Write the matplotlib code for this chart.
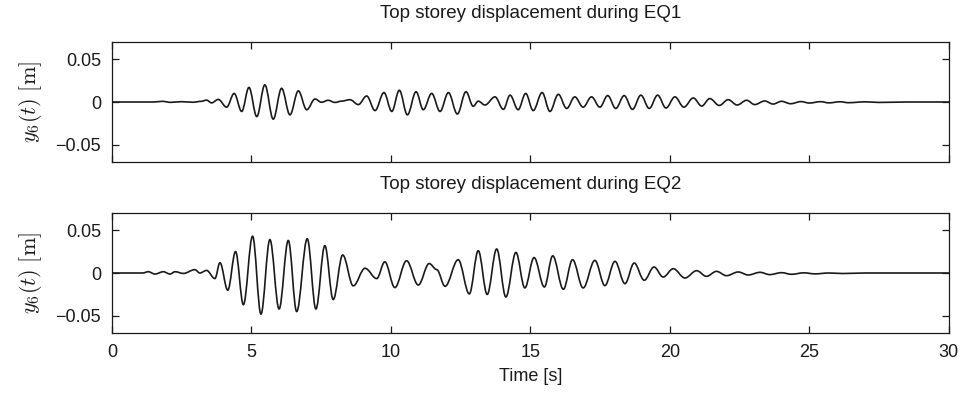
import numpy as np
import matplotlib
matplotlib.use("Agg")
import matplotlib.pyplot as plt
from matplotlib.path import Path
from matplotlib.patches import PathPatch

plt.rcParams['font.family'] = ['Liberation Sans', 'DejaVu Sans']
plt.rcParams['mathtext.fontset'] = 'cm'

# response peaks / troughs of the top storey, [s] and [m]
t_eq1 = [0.0, 1.5, 1.8, 2.1, 2.5, 2.9, 3.2, 3.39, 3.57, 3.81, 4.11, 4.38, 4.65, 4.91,
         5.19, 5.48, 5.78, 6.08, 6.38, 6.68, 6.98, 7.28, 7.51, 7.75, 7.99, 8.23,
         8.53, 8.83, 9.13, 9.43, 9.75, 10.03, 10.30, 10.59, 10.90, 11.16, 11.46,
         11.76, 12.06, 12.38, 12.69, 12.95, 13.13, 13.37, 13.73, 14.03, 14.27,
         14.56, 14.83, 15.10, 15.42, 15.70, 16.00, 16.30, 16.59, 16.89, 17.19,
         17.49, 17.77, 18.06, 18.36, 18.66, 18.96, 19.26, 19.56, 19.86, 20.18,
         20.50, 20.84, 21.14, 21.43, 21.77, 22.09, 22.41, 22.75, 23.04, 23.40,
         23.70, 24.00, 24.33, 24.7, 25.0, 25.4, 25.7, 26.1, 26.4, 27.0, 27.5,
         28.5, 30.0]
y_eq1 = [0.0, 0.0, 0.0008, -0.0004, 0.0004, -0.0003, 0.0008, 0.0022, -0.001, 0.003,
         -0.006, 0.010, -0.011, 0.017, -0.017, 0.020, -0.020, 0.016, -0.015, 0.013,
         -0.009, 0.0035, -0.0003, 0.002, -0.0005, 0.001, 0.0027, -0.003, 0.007,
         -0.010, 0.011, -0.011, 0.0137, -0.015, 0.012, -0.009, 0.010, -0.011, 0.011,
         -0.014, 0.012, -0.005, 0.001, -0.0035, 0.006, -0.0086, 0.008, -0.009, 0.010,
         -0.010, 0.011, -0.011, 0.009, -0.0075, 0.006, -0.006, 0.006, -0.006, 0.0075,
         -0.0075, 0.0075, -0.0086, 0.008, -0.0075, 0.008, -0.007, 0.006, -0.006,
         0.0047, -0.0047, 0.004, -0.004, 0.0027, -0.0035, 0.002, -0.003, 0.0012,
         -0.0024, 0.0008, -0.002, 0.0005, -0.0012, 0.0004, -0.001, 0.0003, -0.0008,
         0.0002, -0.0005, 0.0, 0.0]

t_eq2 = [0.0, 1.1, 1.30, 1.54, 1.84, 2.08, 2.26, 2.56, 2.97, 3.15, 3.39, 3.69, 3.87,
         4.15, 4.43, 4.71, 5.04, 5.34, 5.66, 5.99, 6.32, 6.62, 7.00, 7.31, 7.63,
         7.93, 8.27, 8.65, 9.07, 9.49, 9.78, 10.14, 10.56, 10.98, 11.37, 11.64,
         11.94, 12.41, 12.81, 13.13, 13.45, 13.79, 14.12, 14.48, 14.80, 15.13,
         15.50, 15.80, 16.18, 16.51, 16.89, 17.31, 17.67, 18.03, 18.39, 18.72,
         19.08, 19.43, 19.76, 20.12, 20.54, 20.96, 21.31, 21.67, 22.03, 22.45,
         22.81, 23.23, 23.58, 24.00, 24.36, 24.8, 25.2, 25.7, 26.2, 27.0, 30.0]
y_eq2 = [0.0, 0.0, 0.0015, -0.0012, 0.0015, -0.0012, 0.0015, -0.0005, 0.0039, 0.0,
         0.003, -0.0065, 0.012, -0.020, 0.025, -0.037, 0.043, -0.048, 0.039, -0.042,
         0.038, -0.045, 0.040, -0.042, 0.032, -0.031, 0.021, -0.015, 0.0055, -0.0065,
         0.013, -0.017, 0.0143, -0.014, 0.011, 0.004, -0.0155, 0.0155, -0.0244,
         0.026, -0.025, 0.028, -0.028, 0.024, -0.0174, 0.018, -0.0163, 0.020, -0.019,
         0.0155, -0.0174, 0.0147, -0.0147, 0.0136, -0.0124, 0.0116, -0.0085, 0.007,
         -0.0047, 0.005, -0.0058, 0.0027, -0.0039, 0.0019, -0.0031, 0.0012, -0.0023,
         0.0008, -0.0019, 0.0004, -0.0015, 0.0002, -0.001, 0.0, -0.0006, 0.0, 0.0]

titles = ['Top storey displacement during EQ1', 'Top storey displacement during EQ2']
xticks = [0, 5, 10, 15, 20, 25, 30]
yticks = [-0.05, 0, 0.05]
ytick_labels = ['\u22120.05', '0', '0.05']

INK = '#1a1a1a'


def wave_path(t, y):
    # cubic segments with flat tangents at each peak, so the trace looks like a smooth oscillation
    verts = [(t[0], y[0])]
    codes = [Path.MOVETO]
    for i in range(1, len(t)):
        dt = t[i] - t[i - 1]
        verts += [(t[i - 1] + 0.36 * dt, y[i - 1]), (t[i] - 0.36 * dt, y[i]), (t[i], y[i])]
        codes += [Path.CURVE4] * 3
    return Path(verts, codes)


fig = plt.figure(figsize=(9.63, 3.94), dpi=100)
ax1 = fig.add_axes([0.1163, 0.5888, 0.869, 0.3046])
ax2 = fig.add_axes([0.1163, 0.1548, 0.869, 0.3046])

for ax, t, y, title in [(ax1, t_eq1, y_eq1, titles[0]), (ax2, t_eq2, y_eq2, titles[1])]:
    ax.add_patch(PathPatch(wave_path(t, y), fill=False, edgecolor=INK, lw=1.2,
                           joinstyle='round', capstyle='round'))
    ax.set_xlim(0, 30)
    ax.set_ylim(-0.07, 0.07)
    ax.set_xticks(xticks)
    ax.set_yticks(yticks)
    ax.set_yticklabels(ytick_labels)
    ax.tick_params(direction='in', length=5, width=0.9, top=True, right=True,
                   labelsize=13, pad=8, colors=INK)
    for s in ax.spines.values():
        s.set_linewidth(0.9)
        s.set_color(INK)
    ax.set_title(title, fontsize=13.5, pad=17, color=INK)
    ax.set_ylabel(r'$y_6(t)\ [\mathrm{m}]$', fontsize=16, labelpad=8, color=INK)

ax1.set_xticklabels([])
ax2.set_xlabel('Time [s]', fontsize=13, labelpad=5, color=INK)

fig.savefig('out.png', dpi=100)
